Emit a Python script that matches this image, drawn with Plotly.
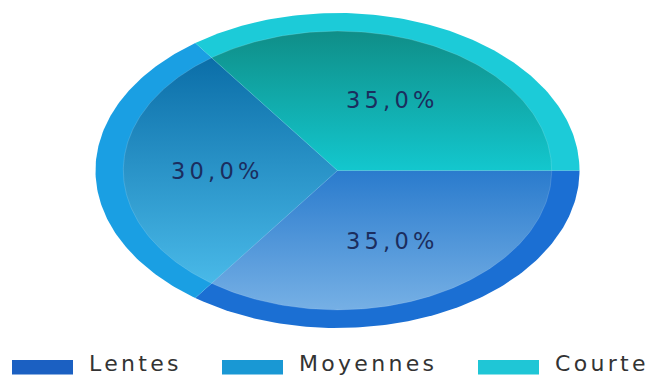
import numpy as np
import plotly.graph_objects as go

# ---- data ----
categories = ["Lentes", "Moyennes", "Courte"]
values = [35.0, 30.0, 35.0]

# ---- styles ----
face_top = ["#2a7bcd", "#0b6ea8", "#0f8e88"]
face_bottom = ["#76b0e5", "#49b9e8", "#13c7ce"]
rim_colors = ["#1b6fd3", "#1a9fe3", "#1ccbd8"]
legend_colors = ["#1b60c2", "#1998d4", "#1fc6d6"]
label_color = "#1b2d5e"
legend_text_color = "#333333"

W, H = 652, 378
CX, CY = 337.5, 170.5      # pie centre in pixels
RX, RY = 242.0, 157.5      # outer semi-axes in pixels
INNER = 0.885              # face radius relative to rim

fig = go.Figure()

total = sum(values)
fracs = [v / total for v in values]
cum = np.concatenate([[0.0], np.cumsum(fracs)])


def wedge(r, a0, a1, n=120):
    t = np.linspace(a0, a1, n)
    xs = np.concatenate([[0.0], r * np.cos(t), [0.0]])
    ys = np.concatenate([[0.0], r * np.sin(t), [0.0]])
    return xs, ys


angles = [(-2 * np.pi * cum[i], -2 * np.pi * cum[i + 1]) for i in range(len(values))]

# rim (outer band)
for i, name in enumerate(categories):
    xs, ys = wedge(1.0, *angles[i])
    fig.add_trace(go.Scatter(x=xs, y=ys, mode="lines", fill="toself",
                             fillcolor=rim_colors[i], line=dict(width=0),
                             hoverinfo="skip", showlegend=False))

# faces with vertical gradient
for i, name in enumerate(categories):
    xs, ys = wedge(INNER, *angles[i])
    fig.add_trace(go.Scatter(
        x=xs, y=ys, mode="lines", fill="toself",
        fillgradient=dict(type="vertical",
                          colorscale=[[0, face_bottom[i]], [1, face_top[i]]]),
        line=dict(width=1, color="rgba(255,255,255,0.14)"),
        name=name, showlegend=False,
        hovertemplate=name + ": %{text}<extra></extra>",
        text=[f"{values[i]:.1f}%".replace(".", ",")] * len(xs)))

annotations = []
# slice labels
for i, name in enumerate(categories):
    mid = (angles[i][0] + angles[i][1]) / 2
    lab = f"{values[i] / total * 100:.1f}%".replace(".", ",")
    annotations.append(dict(
        x=0.5 * np.cos(mid), y=0.5 * np.sin(mid), xref="x", yref="y",
        text=f"<span style='letter-spacing:4.2px'>{lab}</span>",
        showarrow=False, xanchor="center", yanchor="middle",
        font=dict(family="DejaVu Sans", size=22.5, color=label_color)))

# custom legend
legend_x = [12, 222, 478]
rect_w, rect_y0, rect_y1 = 61, 360, 374.5
shapes = []
for i, name in enumerate(categories):
    x0 = legend_x[i]
    shapes.append(dict(type="rect", xref="paper", yref="paper",
                       x0=x0 / W, x1=(x0 + rect_w) / W,
                       y0=1 - rect_y1 / H, y1=1 - rect_y0 / H,
                       fillcolor=legend_colors[i], line=dict(width=0)))
    annotations.append(dict(
        x=(x0 + rect_w + 14) / W, y=1 - 363 / H, xref="paper", yref="paper",
        text=f"<span style='letter-spacing:3.3px'>{name}</span>",
        showarrow=False, xanchor="left", yanchor="middle",
        font=dict(family="DejaVu Sans", size=22, color=legend_text_color)))

fig.update_layout(
    width=W, height=H,
    margin=dict(l=0, r=0, t=0, b=0, pad=0),
    paper_bgcolor="white", plot_bgcolor="white",
    xaxis=dict(range=[-CX / RX, (W - CX) / RX], visible=False, fixedrange=True),
    yaxis=dict(range=[-(H - CY) / RY, CY / RY], visible=False, fixedrange=True),
    shapes=shapes, annotations=annotations,
    showlegend=False,
)

fig.write_html("out.html")
